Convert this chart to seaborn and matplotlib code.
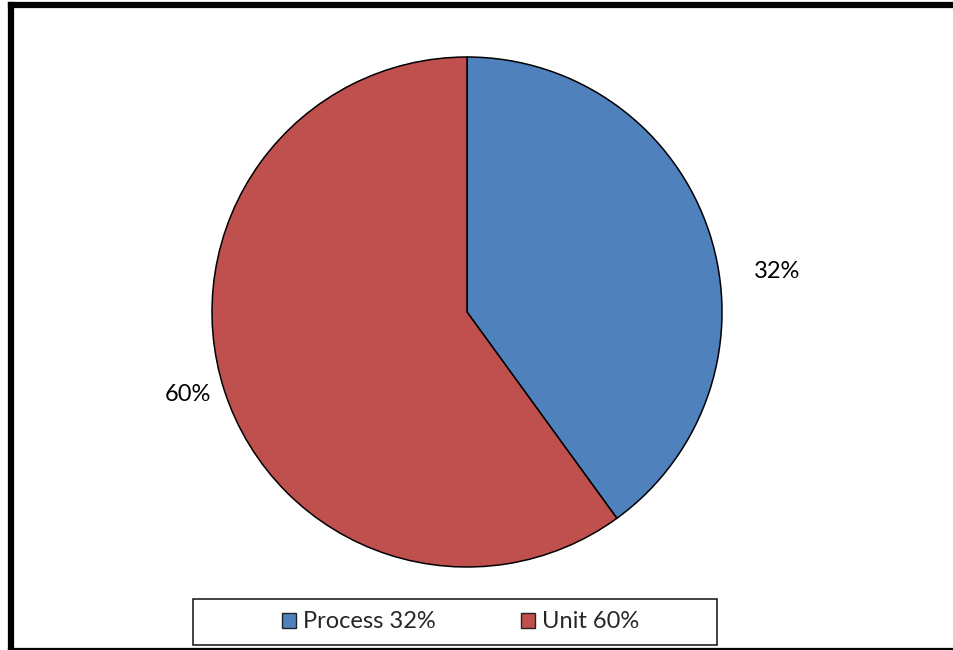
import matplotlib
matplotlib.use("Agg")
import matplotlib.pyplot as plt
from matplotlib.patches import Rectangle, Patch
from matplotlib.lines import Line2D
import seaborn as sns

# Data
categories = ["Process", "Unit"]
wedge_shares = [40, 60]          # wedge sizes as drawn
pct_labels = ["32%", "60%"]      # printed percentages
legend_labels = ["Process 32%", "Unit 60%"]
colors = ["#4F81BD", "#C0504D"]

sns.set_theme(style="white")
plt.rcParams["font.family"] = ["Lato", "DejaVu Sans"]

W, H = 954, 650
fig = plt.figure(figsize=(W / 100, H / 100), dpi=100)
fig.patch.set_facecolor("white")

cx, cy, r = 467, 312, 255
ax = fig.add_axes([(cx - r) / W, 1 - (cy + r) / H, 2 * r / W, 2 * r / H])
wedges, _ = ax.pie(wedge_shares, colors=colors, startangle=90, counterclock=False,
                   radius=1.0, wedgeprops=dict(edgecolor="black", linewidth=1.1))
ax.set_xlim(-1, 1)
ax.set_ylim(-1, 1)
ax.set_aspect("equal")
ax.axis("off")

# percentage labels
label_pos = [(1.215, 0.157), (-1.094, -0.322)]
for (x, y), t in zip(label_pos, pct_labels):
    ax.text(x, y, t, ha="center", va="center", fontsize=17, color="black")

# legend
handles = [Patch(facecolor=c, edgecolor="#222222", linewidth=1.0) for c in colors]
leg = fig.legend(handles, legend_labels, loc="center", ncol=2,
                 bbox_to_anchor=(460.5 / W, 1 - 622 / H), frameon=False,
                 fontsize=17, handlelength=0.6, handleheight=0.6,
                 handletextpad=0.3, columnspacing=3.6, borderpad=0)
fig.add_artist(Rectangle((193 / W, 1 - 645 / H), (717 - 193) / W, 46 / H,
                         transform=fig.transFigure, fill=False,
                         edgecolor="#111111", linewidth=1.1))

# outer thick border: left, top and bottom only (right side runs off the canvas)
lw = 4.5
x_left, y_top, y_bot = 11 / W, 1 - 5 / H, 1 - 650.5 / H
for xs, ys in [((x_left, x_left), (y_bot, y_top)),
               ((x_left, 1.05), (y_top, y_top)),
               ((x_left, 1.05), (y_bot, y_bot))]:
    fig.add_artist(Line2D(xs, ys, transform=fig.transFigure, color="black",
                          linewidth=lw, solid_capstyle="projecting"))

fig.savefig("out.png", dpi=100, facecolor="white")
